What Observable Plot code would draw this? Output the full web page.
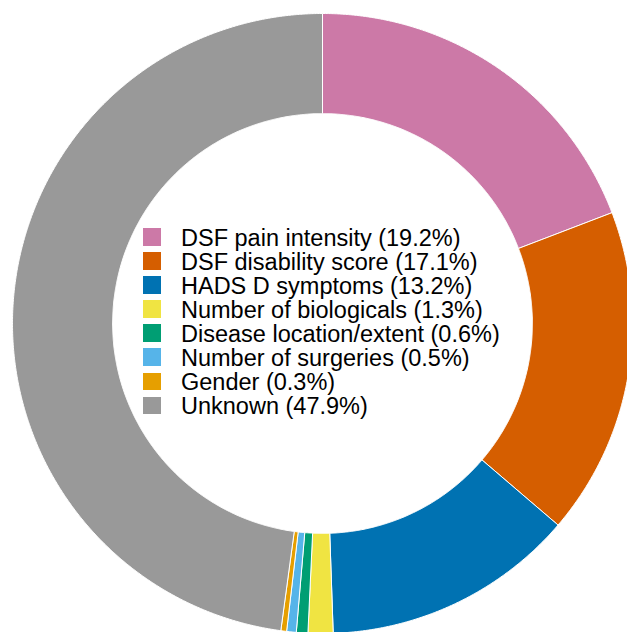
<!DOCTYPE html>
<html>
<head>
<meta charset="utf-8">
<script src="https://cdn.jsdelivr.net/npm/d3@7"></script>
<script src="https://cdn.jsdelivr.net/npm/@observablehq/plot@0.6"></script>
<style>
  html, body { margin: 0; padding: 0; background: #fff; }
  #wrap { position: relative; width: 627px; height: 632px; overflow: hidden; }
  #legend { position: absolute; left: 143px; top: 225.5px; font-family: "Liberation Sans", Arial, Helvetica, sans-serif; font-size: 23.5px; line-height: 24.1px; color: #000; white-space: nowrap; }
  #legend .sw { display: inline-block; width: 18px; height: 17.5px; margin-right: 20px; vertical-align: baseline; }
</style>
</head>
<body>
<div id="wrap"></div>
<script>
const categories = ["DSF pain intensity", "DSF disability score", "HADS D symptoms", "Number of biologicals", "Disease location/extent", "Number of surgeries", "Gender", "Unknown"];
const percents = [19.2, 17.1, 13.2, 1.3, 0.6, 0.5, 0.3, 47.9];
const colors = ["#CC79A7", "#D55E00", "#0072B2", "#F0E442", "#009E73", "#56B4E9", "#E69F00", "#999999"];

// geometry (relative units: outer radius = 1)
const W = 627, H = 632, CX = 322, CY = 323, R = 310, INNER = 0.677;

const arcs = d3.pie().sort(null).value(d => d.value)(categories.map((c, i) => ({ name: c, value: percents[i] })));
const pts = [];
arcs.forEach(a => {
  const n = Math.max(4, Math.ceil((a.endAngle - a.startAngle) / 0.005));
  for (let k = 0; k <= n; k++) {
    const t = a.startAngle + (a.endAngle - a.startAngle) * k / n;
    pts.push({ name: a.data.name, x: Math.sin(t), y: -Math.cos(t) });
  }
  for (let k = n; k >= 0; k--) {
    const t = a.startAngle + (a.endAngle - a.startAngle) * k / n;
    pts.push({ name: a.data.name, x: INNER * Math.sin(t), y: -INNER * Math.cos(t) });
  }
  pts.push({ name: a.data.name, x: Math.sin(a.startAngle), y: -Math.cos(a.startAngle) });
});

const chart = Plot.plot({
  width: W, height: H,
  margin: 0,
  style: { background: "#fff" },
  x: { domain: [-CX / R, (W - CX) / R], range: [0, W], axis: null },
  y: { domain: [-CY / R, (H - CY) / R], range: [0, H], axis: null },
  color: { domain: categories, range: colors },
  marks: [
    Plot.line(pts, { x: "x", y: "y", z: "name", fill: "name", stroke: "white", strokeWidth: 1, strokeLinejoin: "round", curve: "linear" })
  ]
});
const wrap = document.getElementById("wrap");
wrap.appendChild(chart);

const legend = document.createElement("div");
legend.id = "legend";
categories.forEach((c, i) => {
  const row = document.createElement("div");
  const sw = document.createElement("span");
  sw.className = "sw";
  sw.style.background = colors[i];
  row.appendChild(sw);
  row.appendChild(document.createTextNode(`${c} (${percents[i].toFixed(1)}%)`));
  legend.appendChild(row);
});
wrap.appendChild(legend);
</script>
</body>
</html>
